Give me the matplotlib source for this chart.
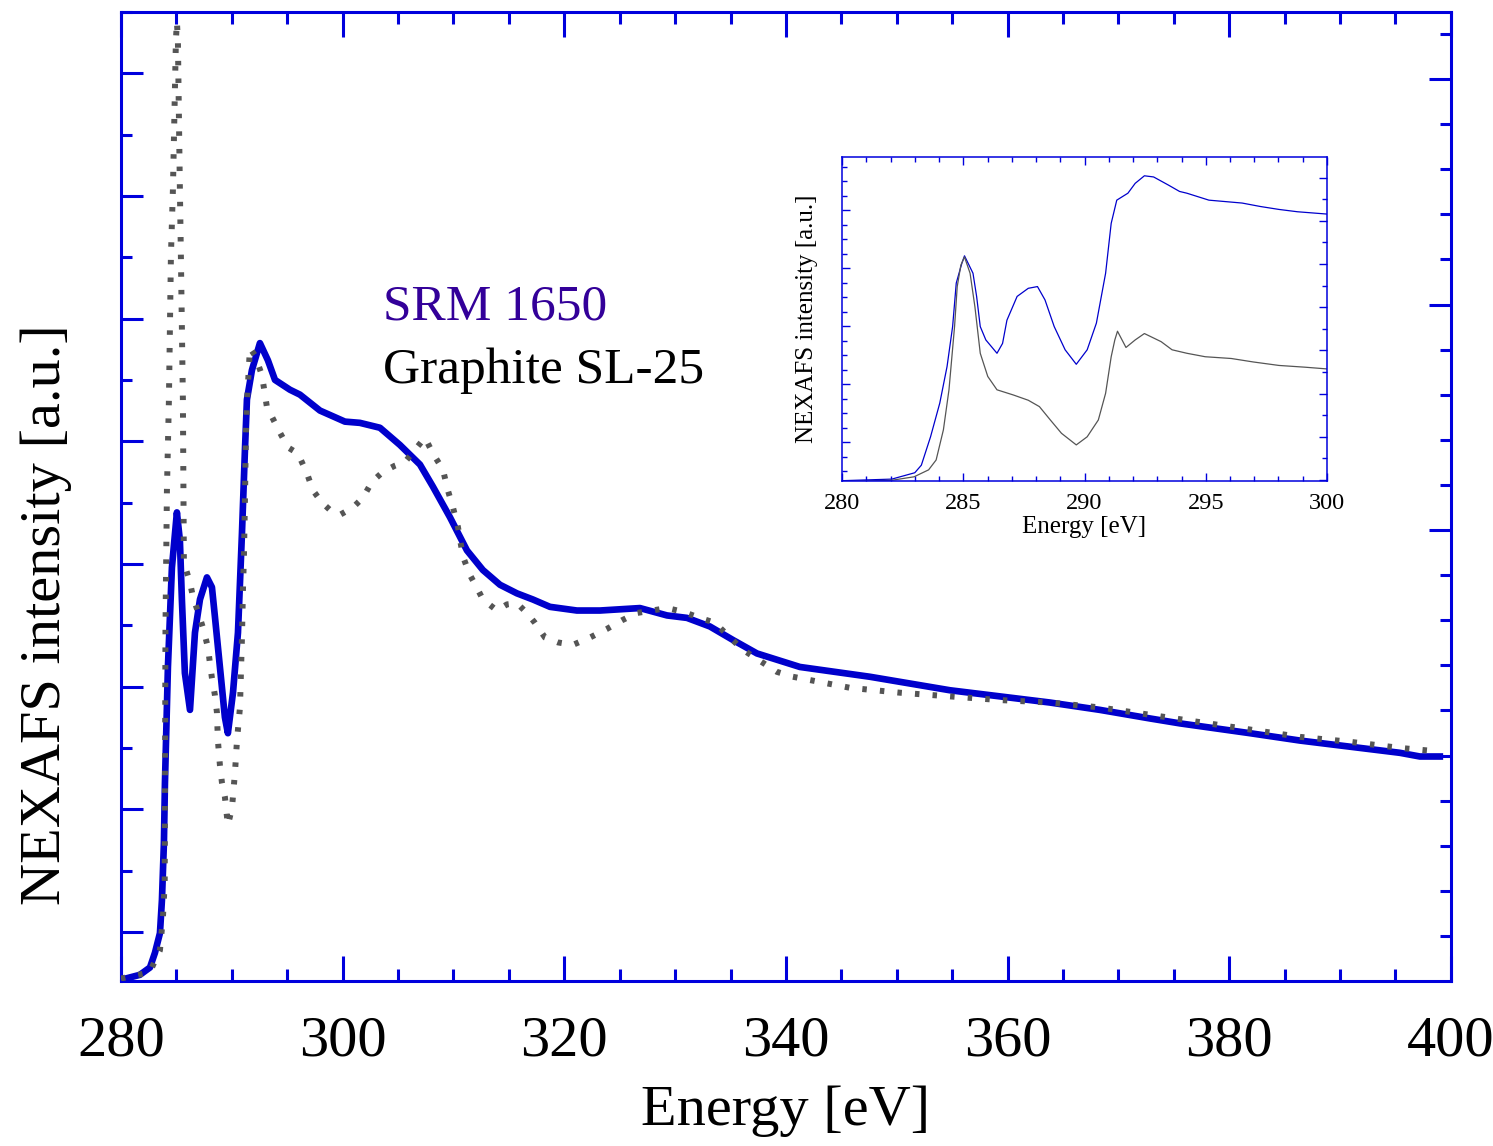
import matplotlib
matplotlib.use("Agg")
import matplotlib.pyplot as plt
from matplotlib.ticker import MultipleLocator, FixedLocator, NullFormatter

# ---- main spectra (full energy range) ----
energy_srm = [
    280.0, 281.71, 282.62, 283.07, 283.52, 283.70, 283.88, 283.97, 284.24, 284.60,
    285.05, 285.32, 285.50, 285.77, 286.23, 286.68, 287.13, 287.76, 288.21, 288.48,
    288.93, 289.38, 289.65, 290.11, 290.56, 290.92, 291.19, 291.37, 291.82, 292.54,
    293.26, 293.90, 295.25, 296.15, 297.96, 300.21, 301.56, 303.37, 305.17, 306.98,
    308.15, 309.69, 311.22, 312.66, 314.20, 315.73, 317.17, 318.71, 321.14, 323.22,
    326.83, 329.27, 331.07, 333.14, 335.22, 337.39, 341.26, 347.58, 354.80, 359.31,
    363.82, 368.33, 372.85, 375.55, 381.87, 386.38, 390.89, 395.40, 397.20, 399.00,
]
intensity_srm = [
    -0.39, -0.35, -0.29, -0.17, -0.01, 0.26, 0.73, 1.21, 2.16, 2.97,
    3.42, 3.19, 2.71, 2.11, 1.81, 2.44, 2.71, 2.89, 2.81, 2.57,
    2.16, 1.75, 1.62, 1.95, 2.44, 3.25, 3.93, 4.34, 4.58, 4.80,
    4.66, 4.50, 4.42, 4.38, 4.25, 4.16, 4.15, 4.11, 3.97, 3.81,
    3.63, 3.38, 3.11, 2.95, 2.83, 2.76, 2.71, 2.65, 2.62, 2.62,
    2.64, 2.58, 2.56, 2.49, 2.38, 2.27, 2.16, 2.08, 1.97, 1.92,
    1.87, 1.81, 1.74, 1.70, 1.62, 1.56, 1.51, 1.46, 1.43, 1.43,
]

energy_graphite = [
    280.0, 282.6, 283.25, 283.52, 283.79, 283.95, 284.02, 284.15, 284.33, 284.51,
    284.69, 284.96, 285.05, 285.14, 285.32, 285.41, 285.59, 285.68, 286.23, 286.50,
    286.95, 287.40, 287.85, 288.03, 288.21, 288.48, 288.66, 288.75, 288.93, 289.11,
    289.38, 289.65, 290.02, 290.29, 290.47, 290.74, 290.83, 290.92, 291.01, 291.10,
    291.19, 291.28, 291.37, 291.64, 292.09, 292.72, 293.17, 294.35, 295.07, 295.97,
    296.78, 297.32, 298.14, 298.86, 299.76, 300.93, 301.84, 302.65, 303.64, 304.70,
    305.62, 306.53, 307.43, 308.15, 309.05, 309.50, 309.96, 310.41, 310.86, 311.49,
    312.21, 312.66, 313.93, 314.83, 315.73, 316.63, 317.35, 318.26, 319.43, 320.78,
    322.32, 323.85, 325.20, 326.56, 329.27, 330.71, 332.24, 333.60, 334.95, 336.12,
    337.48, 339.19, 340.63, 345.78, 350.29, 354.80, 359.31, 363.82, 368.33, 372.85,
    377.36, 381.87, 386.38, 390.89, 395.40, 399.00,
]
intensity_graphite = [
    -0.38, -0.33, -0.20, -0.15, 0.12, 0.40, 2.49, 3.60, 4.34, 5.51,
    6.05, 7.27, 7.42, 7.27, 6.05, 5.51, 4.34, 3.01, 2.85, 2.73,
    2.61, 2.48, 2.32, 2.19, 2.07, 1.93, 1.79, 1.56, 1.36, 1.22,
    1.10, 0.87, 1.01, 1.30, 1.56, 1.83, 2.12, 2.40, 2.79, 3.07,
    3.52, 4.07, 4.31, 4.76, 4.70, 4.54, 4.28, 4.07, 3.95, 3.90,
    3.74, 3.60, 3.50, 3.44, 3.40, 3.46, 3.54, 3.67, 3.75, 3.80,
    3.83, 3.93, 4.03, 3.90, 3.77, 3.60, 3.46, 3.30, 3.06, 2.91,
    2.79, 2.71, 2.62, 2.67, 2.68, 2.60, 2.52, 2.40, 2.36, 2.34,
    2.40, 2.47, 2.54, 2.60, 2.64, 2.61, 2.56, 2.52, 2.40, 2.30,
    2.22, 2.12, 2.08, 1.99, 1.95, 1.92, 1.89, 1.87, 1.83, 1.77,
    1.71, 1.65, 1.59, 1.55, 1.50, 1.47,
]

# ---- C K-edge detail (inset) ----
inset_energy_srm = [
    280.0, 282.05, 283.0, 283.27, 283.65, 284.03, 284.33, 284.56, 284.71, 284.94,
    285.05, 285.40, 285.55, 285.70, 285.93, 286.39, 286.62, 286.80, 287.22, 287.68,
    288.06, 288.37, 288.75, 289.20, 289.66, 290.11, 290.49, 290.87, 291.10, 291.33,
    291.79, 292.09, 292.47, 292.85, 293.46, 293.92, 294.22, 295.13, 296.50, 297.26,
    298.02, 298.78, 300.0,
]
inset_intensity_srm = [
    -0.667, -0.64, -0.53, -0.40, 0.09, 0.67, 1.30, 1.99, 2.74, 3.08,
    3.21, 2.91, 2.51, 1.99, 1.76, 1.53, 1.70, 2.10, 2.51, 2.65,
    2.68, 2.45, 1.99, 1.59, 1.34, 1.59, 2.05, 2.91, 3.77, 4.17,
    4.29, 4.46, 4.59, 4.57, 4.43, 4.32, 4.29, 4.17, 4.12, 4.06,
    4.01, 3.97, 3.93,
]
inset_energy_graphite = [
    280.0, 282.05, 282.97, 283.57, 283.88, 284.18, 284.41, 284.64, 284.75, 284.90,
    285.05, 285.28, 285.48, 285.70, 286.01, 286.39, 287.07, 287.68, 288.14, 288.59,
    289.05, 289.66, 290.11, 290.57, 290.87, 291.10, 291.25, 291.36, 291.71, 292.09,
    292.47, 293.16, 293.61, 294.22, 294.98, 296.05, 296.96, 298.02, 299.09, 300.0,
]
inset_intensity_graphite = [
    -0.68, -0.66, -0.60, -0.48, -0.31, 0.21, 0.90, 1.99, 2.68, 3.05,
    3.19, 2.91, 2.33, 1.53, 1.13, 0.90, 0.81, 0.72, 0.61, 0.38,
    0.15, -0.05, 0.09, 0.38, 0.84, 1.47, 1.76, 1.91, 1.63, 1.76,
    1.87, 1.73, 1.59, 1.53, 1.47, 1.44, 1.38, 1.32, 1.29, 1.26,
]

energy_ticks = [280, 300, 320, 340, 360, 380, 400]
inset_energy_ticks = [280, 285, 290, 295, 300]
series_names = ["SRM 1650", "Graphite SL-25"]

AXIS_BLUE = "#0000DD"
SRM_BLUE = "#0000CC"
GRAPHITE_GREY = "#555555"
LABEL_PURPLE = "#330099"

plt.rcParams["font.family"] = ["Liberation Serif", "DejaVu Serif"]

fig = plt.figure(figsize=(14.93, 11.46), dpi=100)

# ---------------- main panel ----------------
ax = fig.add_axes([0.0810, 0.1440, 0.8908, 0.8456])
ax.plot(energy_srm, intensity_srm, color=SRM_BLUE, lw=4.8,
        solid_joinstyle="round", zorder=3)
ax.plot(energy_graphite, intensity_graphite, color=GRAPHITE_GREY, lw=4.3,
        dashes=(0.75, 2.2), dash_capstyle="butt", zorder=4)

ax.set_xlim(280, 400)
ax.set_ylim(-0.4, 7.5)
ax.xaxis.set_major_locator(FixedLocator(energy_ticks))
ax.xaxis.set_minor_locator(MultipleLocator(5))
ax.yaxis.set_major_locator(MultipleLocator(1))
ax.yaxis.set_minor_locator(MultipleLocator(0.5))
ax.yaxis.set_major_formatter(NullFormatter())

for sp in ax.spines.values():
    sp.set_color(AXIS_BLUE)
    sp.set_linewidth(2.2)

ax.tick_params(axis="x", which="both", direction="in", top=True, bottom=True,
               color=AXIS_BLUE, width=2.2, labelsize=42, pad=25)
ax.tick_params(axis="x", which="major", length=18)
ax.tick_params(axis="x", which="minor", length=8.5)
ax.tick_params(axis="y", which="both", direction="in", left=True, right=False,
                color=AXIS_BLUE, width=2.2)
ax.tick_params(axis="y", which="major", length=16)
ax.tick_params(axis="y", which="minor", length=8)

ax.set_xlabel("Energy [eV]", fontsize=42)
ax.set_ylabel("NEXAFS intensity [a.u.]", fontsize=42)
ax.yaxis.set_label_coords(-0.037, 0.378)
ax.xaxis.set_label_coords(0.5, -0.107)

# right-hand scale
ax_r = ax.twinx()
ax_r.set_ylim(0, 21.49)
ax_r.yaxis.set_major_locator(FixedLocator([10, 15, 20]))
ax_r.yaxis.set_minor_locator(FixedLocator([k for k in range(1, 22) if k not in (10, 15, 20)]))
ax_r.yaxis.set_major_formatter(NullFormatter())
ax_r.tick_params(axis="y", which="both", direction="in", right=True, left=False,
                 color=AXIS_BLUE, width=2.2)
ax_r.tick_params(axis="y", which="major", length=16)
ax_r.tick_params(axis="y", which="minor", length=8)
for sp in ax_r.spines.values():
    sp.set_visible(False)

# series names
fig.text(0.2565, 0.7208, series_names[0], color=LABEL_PURPLE, fontsize=37,
         va="baseline", ha="left")
fig.text(0.2565, 0.6658, series_names[1], color="black", fontsize=37,
         va="baseline", ha="left")

# ---------------- inset ----------------
axi = fig.add_axes([0.5640, 0.5803, 0.3248, 0.2827])
axi.plot(inset_energy_srm, inset_intensity_srm, color=SRM_BLUE, lw=0.9)
axi.plot(inset_energy_graphite, inset_intensity_graphite, color=GRAPHITE_GREY, lw=0.9)
axi.set_xlim(280, 300)
axi.set_ylim(-0.672, 4.914)
axi.xaxis.set_major_locator(FixedLocator(inset_energy_ticks))
axi.xaxis.set_minor_locator(MultipleLocator(1))
axi.yaxis.set_major_locator(MultipleLocator(1))
axi.yaxis.set_minor_locator(MultipleLocator(0.25))
axi.yaxis.set_major_formatter(NullFormatter())
for sp in axi.spines.values():
    sp.set_color(AXIS_BLUE)
    sp.set_linewidth(1.1)
axi.tick_params(axis="x", which="both", direction="in", top=True, bottom=True,
                color=AXIS_BLUE, width=1.0, labelsize=17.5, pad=9)
axi.tick_params(axis="x", which="major", length=6)
axi.tick_params(axis="x", which="minor", length=3.5)
axi.tick_params(axis="y", which="both", direction="in", left=True, right=False,
                color=AXIS_BLUE, width=1.0)
axi.tick_params(axis="y", which="major", length=6)
axi.tick_params(axis="y", which="minor", length=3.5)
axi.set_xlabel("Energy [eV]", fontsize=18, labelpad=1)
axi.set_ylabel("NEXAFS intensity [a.u.]", fontsize=18)
axi.yaxis.set_label_coords(-0.050, 0.5)

axi_r = axi.twinx()
axi_r.set_ylim(-0.05, 14.95)
axi_r.yaxis.set_major_locator(MultipleLocator(2))
axi_r.yaxis.set_minor_locator(MultipleLocator(1))
axi_r.yaxis.set_major_formatter(NullFormatter())
axi_r.tick_params(axis="y", which="both", direction="in", right=True, left=False,
                  color=AXIS_BLUE, width=1.0)
axi_r.tick_params(axis="y", which="major", length=6)
axi_r.tick_params(axis="y", which="minor", length=3.5)
for sp in axi_r.spines.values():
    sp.set_visible(False)

fig.savefig("out.png", dpi=100)
